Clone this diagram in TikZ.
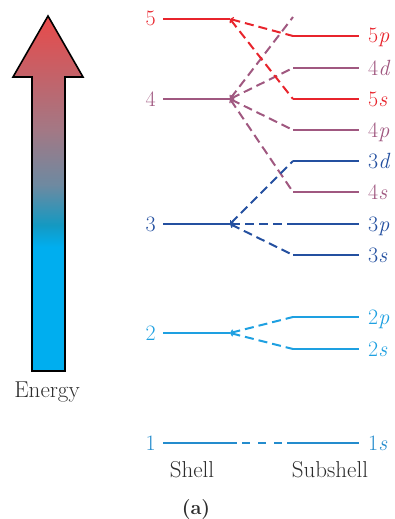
\documentclass[tikz,border=0pt]{standalone}
\usepackage{fontspec}
\usetikzlibrary{arrows.meta}
\definecolor{cFive}{RGB}{232,36,44}
\definecolor{cFour}{RGB}{160,88,128}
\definecolor{cThree}{RGB}{36,80,160}
\definecolor{cTwo}{RGB}{30,160,225}
\definecolor{cOne}{RGB}{36,140,205}
\definecolor{txtgray}{RGB}{45,45,45}
\pgfdeclareverticalshading{energyshade}{100bp}{rgb(0bp)=(0,0.682,0.937); rgb(25bp)=(0,0.682,0.937); rgb(42.5bp)=(0,0.682,0.937); rgb(45.6bp)=(0.08,0.60,0.76); rgb(51.2bp)=(0.43,0.54,0.63); rgb(59bp)=(0.64,0.47,0.52); rgb(75bp)=(0.91,0.29,0.29); rgb(100bp)=(0.91,0.29,0.29)}
\tikzset{
  lvl/.style={line width=2pt},
  dsh/.style={line width=2pt, dash pattern=on 9pt off 5pt},
  barb/.style={{Straight Barb[length=2.5pt,width=5pt,line width=1.2pt]}-},
  lab/.style={inner sep=0pt, font=\fontsize{22}{26}\selectfont},
  captxt/.style={inner sep=0pt, text=txtgray, font=\fontsize{23}{27}\selectfont}
}
\begin{document}
\begin{tikzpicture}[x=1pt,y=-1pt]
\useasboundingbox (0,0) rectangle (394,519);
% energy arrow
\shade[shading=energyshade, draw=black, line width=1.6pt, line join=miter]
  (48,16) -- (83,77) -- (65,77) -- (65,371) -- (32,371) -- (32,77) -- (13,77) -- cycle;
\node[captxt,anchor=base] (energy) at (47,397) {Energy};
% shell coordinates
\foreach \n/\y in {5/19,4/99,3/224,2/333} {
  \coordinate (s\n w) at (163,\y);
  \coordinate (s\n e) at (230,\y);
}
\coordinate (s1w) at (163,443); \coordinate (s1e) at (237,443);
% subshell coordinates
\foreach \n/\y/\x in {5p/36/293, 4d/68/293, 5s/99/293, 4p/130/293, 3d/161/293, 4s/192/293, 3p/224/287, 3s/255/293, 2p/317/293, 2s/349/293, 1s/443/287} {
  \coordinate (p\n w) at (\x,\y);
  \coordinate (p\n e) at (359,\y);
}
\coordinate (f4) at (293,17);
\coordinate (d1a) at (242,443); \coordinate (d1b) at (282,443);
% dashed connectors
\draw[dsh,cFour,barb] (s4e) -- (f4);
\draw[dsh,cFour,barb] (s4e) -- (p4dw);
\draw[dsh,cFour,barb] (s4e) -- (p4pw);
\draw[dsh,cFour,barb] (s4e) -- (p4sw);
\draw[dsh,cFive,barb] (s5e) -- (p5pw);
\draw[dsh,cFive,barb] (s5e) -- (p5sw);
\draw[dsh,cThree,barb] (s3e) -- (p3dw);
\draw[dsh,cThree,barb] (s3e) -- (p3pw);
\draw[dsh,cThree,barb] (s3e) -- (p3sw);
\draw[dsh,cTwo,barb] (s2e) -- (p2pw);
\draw[dsh,cTwo,barb] (s2e) -- (p2sw);
\draw[lvl,cOne,dash pattern=on 8pt off 8pt] (d1a) -- (d1b);
% shell lines and labels
\foreach \n/\c in {5/cFive,4/cFour,3/cThree,2/cTwo,1/cOne} {
  \draw[lvl,\c] (s\n w) -- (s\n e);
  \node[lab,text=\c,anchor=base east] (n\n) at ([shift={(-7pt,-7pt)}]s\n w) {\n};
}
% subshell lines and labels
\foreach \n/\m/\l/\c in {5p/5/p/cFive, 4d/4/d/cFour, 5s/5/s/cFive, 4p/4/p/cFour, 3d/3/d/cThree, 4s/4/s/cFour, 3p/3/p/cThree, 3s/3/s/cThree, 2p/2/p/cTwo, 2s/2/s/cTwo, 1s/1/s/cOne} {
  \draw[lvl,\c] (p\n w) -- (p\n e);
  \node[lab,text=\c,anchor=base west] (q\n) at ([shift={(9pt,-7pt)}]p\n e) {\m\textit{\l}};
}
\node[captxt,anchor=base] (shell) at (192,477) {Shell};
\node[captxt,anchor=base] (subshell) at (330,477) {Subshell};
\node[captxt,anchor=base,font=\fontsize{20}{24}\selectfont\bfseries] (a) at (196,514) {(a)};
\end{tikzpicture}
\end{document}
